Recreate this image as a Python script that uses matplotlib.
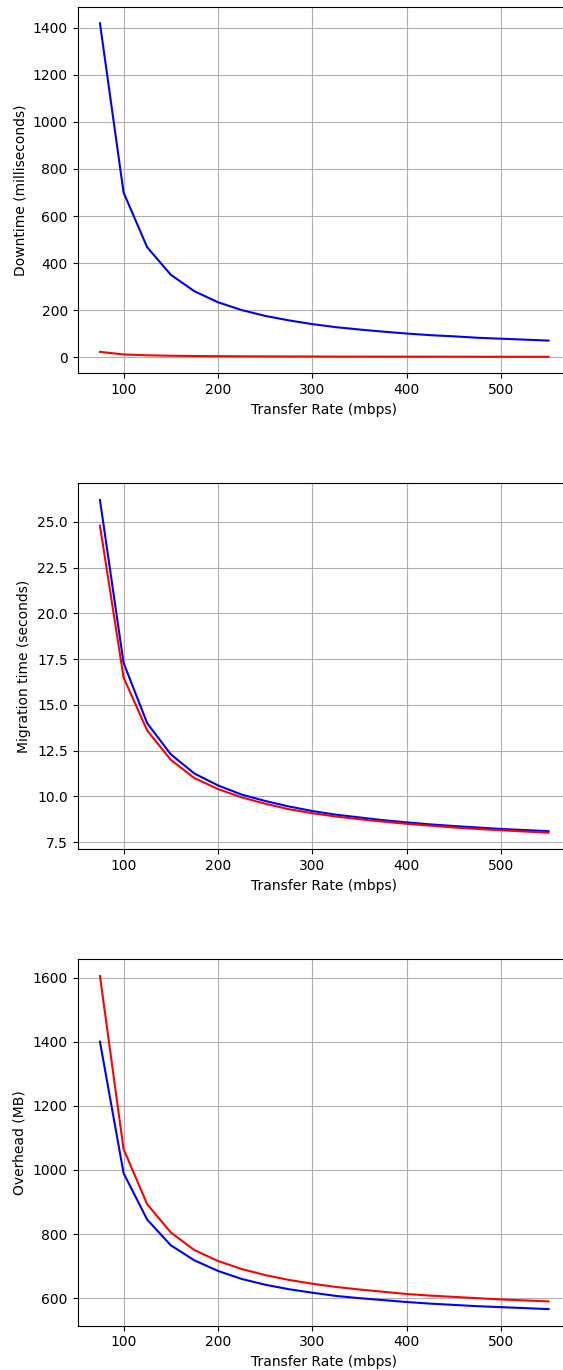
import numpy as np
from matplotlib import pyplot as plt

rates = [75, 100, 125, 150, 175, 200, 225, 250, 275, 300,
         325, 350, 375, 400, 425, 450, 475, 500, 525, 550]

downtime_blue = [1420, 700, 467, 350, 280, 233, 200, 175, 156, 140,
                 127, 117, 108, 100, 93, 88, 82, 78, 74, 70]
downtime_red = [22, 11, 7.3, 5.5, 4.4, 3.7, 3.1, 2.8, 2.4, 2.2,
                2.0, 1.8, 1.7, 1.6, 1.5, 1.4, 1.3, 1.2, 1.2, 1.1]

migr_blue = [26.2, 17.3, 14.0, 12.3, 11.25, 10.6, 10.1, 9.75, 9.45, 9.2,
             9.0, 8.85, 8.7, 8.58, 8.47, 8.38, 8.3, 8.22, 8.16, 8.1]
migr_red = [24.8, 16.5, 13.6, 12.0, 11.0, 10.4, 9.95, 9.6, 9.3, 9.08,
            8.9, 8.75, 8.62, 8.5, 8.4, 8.3, 8.22, 8.15, 8.08, 8.02]

overhead_blue = [1400, 990, 845, 765, 718, 685, 660, 642, 628, 617,
                 607, 600, 594, 588, 583, 579, 575, 572, 569, 566]
overhead_red = [1605, 1065, 893, 805, 750, 716, 691, 672, 657, 645,
                635, 627, 620, 613, 608, 604, 600, 596, 593, 590]

fig = plt.figure(figsize=(5.63, 13.7), dpi=100)

# axes run a bit past the right edge, like the cropped original
left, width = 0.1377, 0.8765
ax1 = fig.add_axes([left, 0.7274, width, 0.2678])
ax2 = fig.add_axes([left, 0.3801, width, 0.2671])
ax3 = fig.add_axes([left, 0.0323, width, 0.2675])

ax1.plot(rates, downtime_blue, color='blue')
ax1.plot(rates, downtime_red, color='red')
ax1.set_ylabel('Downtime (milliseconds)')

ax2.plot(rates, migr_blue, color='blue')
ax2.plot(rates, migr_red, color='red')
ax2.set_ylabel('Migration time (seconds)')

ax3.plot(rates, overhead_red, color='red')
ax3.plot(rates, overhead_blue, color='blue')
ax3.set_ylabel('Overhead (MB)')

for ax in (ax1, ax2, ax3):
    ax.set_xlabel('Transfer Rate (mbps)')
    ax.grid(True)

fig.savefig('out.png', dpi=100)
